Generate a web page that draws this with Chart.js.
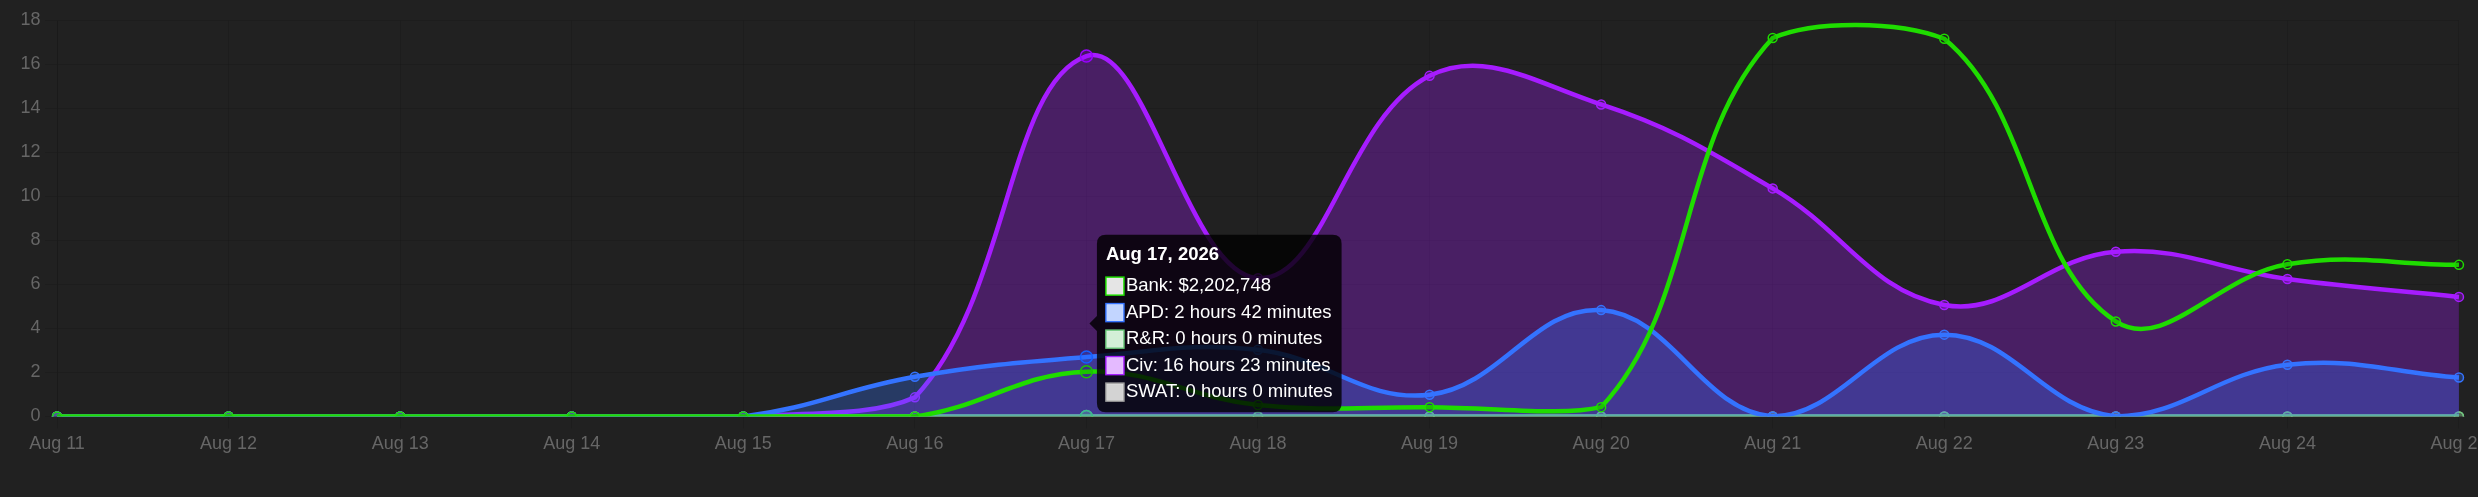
<!DOCTYPE html>
<html>
<head>
<meta charset="utf-8">
<script src="https://cdn.jsdelivr.net/npm/chart.js@4.4.1/dist/chart.umd.min.js"></script>
<style>
  html, body { margin: 0; padding: 0; background: #212121; overflow: hidden; }
  .activity-wrap { position: absolute; left: 0; top: 0; width: 2492px; height: 475px; }
</style>
</head>
<body>
<div class="activity-wrap"><canvas id="activity"></canvas></div>
<script>
const year = 2026;
const days = ["Aug 11", "Aug 12", "Aug 13", "Aug 14", "Aug 15", "Aug 16", "Aug 17", "Aug 18",
  "Aug 19", "Aug 20", "Aug 21", "Aug 22", "Aug 23", "Aug 24", "Aug 25"];

// bank balance in dollars, play time in minutes per day
const bankDollars = [0, 0, 0, 0, 0, 0, 2202748, 564000, 455000, 455000, 18640000, 18600000, 4676000, 7490000, 7465000];
const apdMinutes = [0, 0, 0, 0, 0, 108, 162, 182, 59, 290, 0, 223, 0, 141, 106];
const rrMinutes = [0, 0, 0, 0, 0, 0, 0, 0, 0, 0, 0, 0, 0, 0, 0];
const civMinutes = [0, 0, 0, 0, 0, 52, 983, 377, 929, 851, 622, 304, 449, 375, 326];
const swatMinutes = [0, 0, 0, 0, 0, 0, 0, 0, 0, 0, 0, 0, 0, 0, 0];

const hoursMin = 0;
const hoursMax = 18;
const hoursStep = 2;
const bankAxisMax = 19500000;
const hoveredDay = "Aug 17";

const minutesBySeries = { "APD": apdMinutes, "R&R": rrMinutes, "Civ": civMinutes, "SWAT": swatMinutes };

function toHours(list) {
  return list.map((m) => m / 60);
}

function formatTime(mins) {
  return `${Math.floor(mins / 60)} hours ${mins % 60} minutes`;
}

Chart.defaults.font.size = 18;

const ctx = document.getElementById("activity");
const chart = new Chart(ctx, {
  type: "line",
  data: {
    labels: days,
    datasets: [
      {
        label: "Bank",
        data: bankDollars,
        yAxisID: "yBank",
        borderColor: "#1fdc00",
        backgroundColor: "rgba(0, 0, 0, 0.1)",
        fill: false,
      },
      {
        label: "APD",
        data: toHours(apdMinutes),
        borderColor: "#3473ff",
        backgroundColor: "rgba(52, 115, 255, 0.3)",
        fill: true,
      },
      {
        label: "R&R",
        data: toHours(rrMinutes),
        borderColor: "#6ccb7c",
        backgroundColor: "rgba(108, 203, 124, 0.3)",
        fill: true,
      },
      {
        label: "Civ",
        data: toHours(civMinutes),
        borderColor: "#a61cff",
        backgroundColor: "rgba(166, 28, 255, 0.3)",
        fill: true,
      },
      {
        label: "SWAT",
        data: toHours(swatMinutes),
        borderColor: "#9e9e9e",
        backgroundColor: "rgba(128, 128, 128, 0.35)",
        fill: true,
      },
    ],
  },
  options: {
    responsive: true,
    maintainAspectRatio: false,
    animation: false,
    layout: { padding: { left: 16, top: 20.5, bottom: 16 } },
    interaction: { mode: "index", intersect: false },
    elements: {
      line: { borderWidth: 4.5, tension: 0.4 },
      point: { radius: 4.5, borderWidth: 1.5, hoverRadius: 6, hoverBorderWidth: 1.5 },
    },
    scales: {
      x: {
        grid: { tickLength: 12 },
        ticks: { padding: 4.5, maxRotation: 0, autoSkip: false },
      },
      y: {
        min: hoursMin,
        max: hoursMax,
        grid: { tickLength: 12 },
        ticks: { stepSize: hoursStep, padding: 4.5 },
      },
      //bank has its own hidden scale so dollars sit next to the hours
      yBank: { display: false, min: 0, max: bankAxisMax },
    },
    plugins: {
      legend: { display: false },
      tooltip: {
        padding: 9,
        caretSize: 7.5,
        caretPadding: 3,
        cornerRadius: 9,
        titleFont: { size: 18.5, weight: "bold" },
        bodyFont: { size: 18.5 },
        titleMarginBottom: 9,
        bodySpacing: 4.3,
        boxWidth: 18,
        boxHeight: 18,
        callbacks: {
          title: (items) => `${items[0].label}, ${year}`,
          label: (context) => {
            const name = context.dataset.label;
            if (name === "Bank") {
              return `${name}: $${context.raw.toLocaleString("en-US")}`;
            }
            return `${name}: ${formatTime(minutesBySeries[name][context.dataIndex])}`;
          },
        },
      },
    },
  },
});

//show the hover state for one day
const hoverIndex = days.indexOf(hoveredDay);
const active = chart.data.datasets.map((ds, i) => ({ datasetIndex: i, index: hoverIndex }));
chart.setActiveElements(active);
chart.tooltip.setActiveElements(active, { x: 0, y: 0 });
chart.update();
</script>
</body>
</html>
